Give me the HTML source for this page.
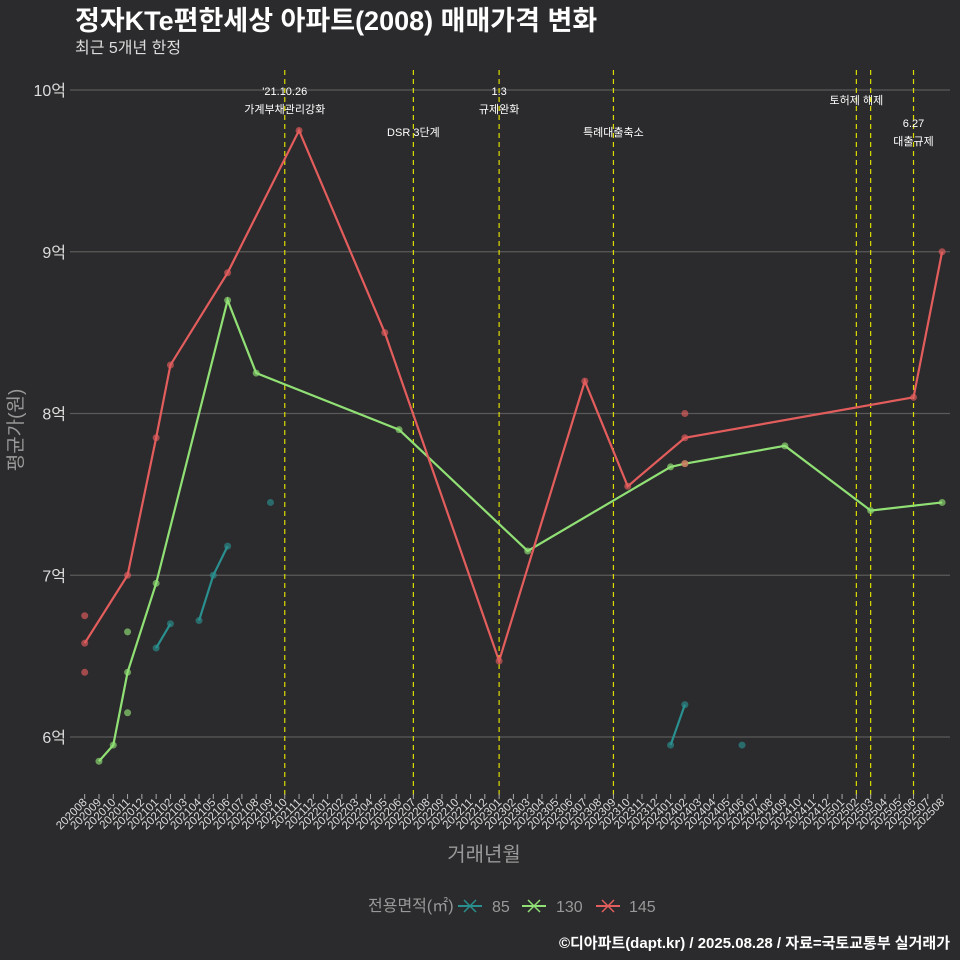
<!DOCTYPE html>
<html><head><meta charset="utf-8">
<style>
body{margin:0;background:#2b2a2c;}
svg{display:block;font-family:"Liberation Sans","Noto Sans CJK KR",sans-serif;}
</style></head>
<body>
<svg id="chart" width="960" height="960" viewBox="0 0 960 960">
<rect width="960" height="960" fill="#2b2a2c"/>
<text x="75" y="30" fill="#fff" font-size="27" font-weight="bold">정자KTe편한세상 아파트(2008) 매매가격 변화</text>
<text x="75" y="53" fill="#ddd" font-size="16">최근 5개년 한정</text>
<g id="grid"></g><g id="vlines"></g><g id="series"></g><g id="xaxis"></g>
<text x="484" y="861" fill="#999" font-size="20" text-anchor="middle">거래년월</text>
<text transform="translate(22,430) rotate(-90)" fill="#999" font-size="19" text-anchor="middle">평균가(원)</text>
<g font-size="16">
<text x="368" y="911" fill="#999">전용면적(㎡)</text>
<g><line x1="458" y1="906" x2="482" y2="906" stroke="#2a8f8f" stroke-width="2"/><path d="M464 900 L476 912 M476 900 L464 912" stroke="#2a8f8f" stroke-width="1.5"/><text x="492" y="912" fill="#999">85</text></g>
<g><line x1="522" y1="906" x2="546" y2="906" stroke="#90e075" stroke-width="2"/><path d="M528 900 L540 912 M540 900 L528 912" stroke="#90e075" stroke-width="1.5"/><text x="556" y="912" fill="#999">130</text></g>
<g><line x1="596" y1="906" x2="620" y2="906" stroke="#e35d5d" stroke-width="2"/><path d="M602 900 L614 912 M614 900 L602 912" stroke="#e35d5d" stroke-width="1.5"/><text x="629" y="912" fill="#999">145</text></g>
</g>
<text x="950" y="948" fill="#fff" font-size="15" font-weight="bold" text-anchor="end">©디아파트(dapt.kr) / 2025.08.28 / 자료=국토교통부 실거래가</text>
</svg>
<script>
const yTicks=[6,7,8,9,10];
const yTickLabels=["6억","7억","8억","9억","10억"];
const s85Months=["202101","202102",null,"202104","202105","202106",null,"202109",null,"202401","202402",null,"202406"];
const s85Values=[6.55,6.7,null,6.72,7.0,7.18,null,7.45,null,5.95,6.2,null,5.95];
const s130Months=["202009","202010","202011","202101","202106","202108","202206","202303","202401","202402","202409","202503","202508"];
const s130Values=[5.85,5.95,6.4,6.95,8.7,8.25,7.9,7.15,7.67,7.69,7.8,7.4,7.45];
const s130PointMonths=["202011","202011"];
const s130PointValues=[6.65,6.15];
const s145Months=["202008","202011","202101","202102","202106","202111","202205","202301","202307","202310","202402","202506","202508"];
const s145Values=[6.58,7.0,7.85,8.3,8.87,9.75,8.5,6.47,8.2,7.55,7.85,8.1,9.0];
const s145PointMonths=["202008","202008","202402","202402"];
const s145PointValues=[6.75,6.4,8.0,7.69];
const eventMonths=["202110","202207","202301","202309","202502","202503","202506"];
const eventLabels=[["'21.10.26","가계부채관리강화"],["DSR 3단계"],["1.3","규제완화"],["특례대출축소"],["토허제 해제"],[],["6.27","대출규제"]];
const eventLabelY=[90,131,90,131,99,0,122];

const months=[];for(let y=2020,m=8;months.length<61;){months.push(y+String(m).padStart(2,'0'));m++;if(m>12){m=1;y++;}}
const NS="http://www.w3.org/2000/svg";
const X=mo=>84.7+months.indexOf(mo)*14.29;
const Y=v=>737-(v-6)*161.75;
function mk(tag,attrs,parent){const e=document.createElementNS(NS,tag);for(const k in attrs)e.setAttribute(k,attrs[k]);parent.appendChild(e);return e;}
const grid=document.getElementById('grid');
yTicks.forEach((t,i)=>{
 const l=mk('line',{x1:70,x2:950,y1:Y(t),y2:Y(t),stroke:'#5a5a5a','stroke-width':1.2},grid);
 
 
 const tx=mk('text',{x:66,y:Y(t)+6,fill:'#ddd','font-size':16,'text-anchor':'end'},grid);
 tx.textContent=yTickLabels[i];
 
 
});
const xa=document.getElementById('xaxis');
months.forEach(mo=>{
 const x=X(mo);
 const t=mk('line',{x1:x,x2:x,y1:794,y2:799,stroke:'#aaa'},xa);
 
 
 const tx=mk('text',{transform:`translate(${x+3},803) rotate(-45)`,fill:'#ddd','font-size':11.5,'text-anchor':'end'},xa);
 tx.textContent=mo;
 
 
});
const vl=document.getElementById('vlines');
eventMonths.forEach((mo,i)=>{
 const x=X(mo);
 const l=mk('line',{x1:x,x2:x,y1:70,y2:795,stroke:'#dddd00','stroke-width':1.2,'stroke-dasharray':'5,4'},vl);
 
 
 eventLabels[i].forEach((s,j)=>{
  const tx=mk('text',{x:x,y:eventLabelY[i]+j*18+5,fill:'#fff','font-size':11,'text-anchor':'middle'},vl);
  tx.textContent=s;
  
  
 });
});
const sg=document.getElementById('series');
function drawSeries(name,col,ms,vs,pms,pvs){
 let seg=[];const segs=[];
 ms.forEach((m,i)=>{if(m===null){if(seg.length)segs.push(seg);seg=[];}else seg.push([X(m),Y(vs[i])]);});
 if(seg.length)segs.push(seg);
 segs.forEach(s=>{
  if(s.length>1){const p=mk('polyline',{points:s.map(q=>q.join(',')).join(' '),fill:'none',stroke:col,'stroke-width':2.2},sg);
  
  }
 });
 ms.forEach((m,i)=>{if(m===null)return;
  const c=mk('circle',{cx:X(m),cy:Y(vs[i]),r:3.5,fill:col,'fill-opacity':0.65},sg);
  
  });
 pms.forEach((m,i)=>{
  const c=mk('circle',{cx:X(m),cy:Y(pvs[i]),r:3.5,fill:col,'fill-opacity':0.65},sg);
  
  });
}
drawSeries('85','#2a8f8f',s85Months,s85Values,[],[]);
drawSeries('130','#90e075',s130Months,s130Values,s130PointMonths,s130PointValues);
drawSeries('145','#e35d5d',s145Months,s145Values,s145PointMonths,s145PointValues);
</script>
</body></html>
